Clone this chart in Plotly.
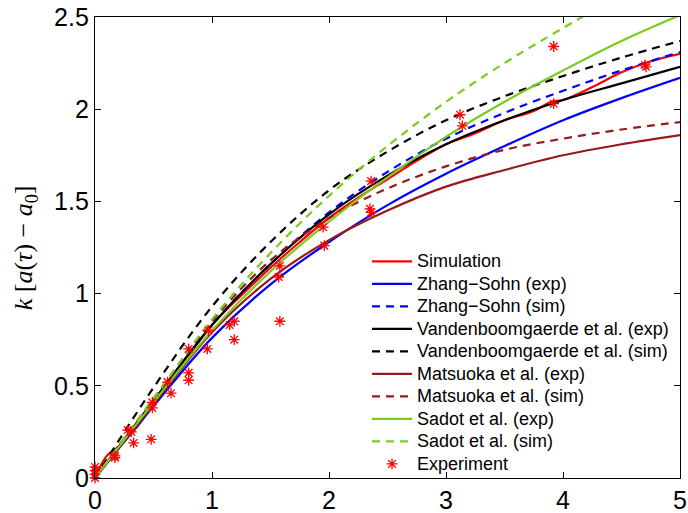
import plotly.graph_objects as go

# ---- data ----
x_curve = [0, 0.5, 1, 1.5, 2, 2.5, 3, 3.5, 4, 4.5, 5]

zhang_exp = [0, 0.39, 0.76, 1.05, 1.28, 1.48, 1.65, 1.80, 1.94, 2.06, 2.17]
zhang_sim = [0, 0.42, 0.83, 1.16, 1.44, 1.66, 1.84, 1.98, 2.10, 2.21, 2.31]
vdb_exp = [0, 0.42, 0.83, 1.16, 1.43, 1.64, 1.81, 1.94, 2.05, 2.14, 2.23]
vdb_sim = [0, 0.49, 0.93, 1.28, 1.56, 1.77, 1.94, 2.07, 2.18, 2.28, 2.37]
mats_exp = [0, 0.40, 0.79, 1.08, 1.29, 1.45, 1.58, 1.67, 1.75, 1.81, 1.86]
mats_sim = [0, 0.43, 0.85, 1.18, 1.41, 1.57, 1.69, 1.78, 1.84, 1.89, 1.93]
sadot_exp = [0, 0.41, 0.80, 1.12, 1.39, 1.63, 1.85, 2.04, 2.21, 2.37, 2.51]
sadot_sim = [0, 0.43, 0.86, 1.22, 1.53, 1.80, 2.04, 2.25, 2.44, 2.62, 2.79]

sim_x = [0, 0.1, 0.2, 0.35, 0.5, 0.75, 1, 1.25, 1.5, 1.75, 2, 2.25, 2.5, 2.75,
         3, 3.25, 3.5, 3.75, 3.9, 4.0, 4.25, 4.5, 4.75, 5]
sim_y = [0, 0.12, 0.17, 0.27, 0.40, 0.62, 0.83, 0.99, 1.14, 1.28, 1.41, 1.52,
         1.62, 1.72, 1.81, 1.87, 1.94, 1.99, 2.04, 2.05, 2.12, 2.20, 2.26, 2.30]

exp_x = [0, 0, 0, 0, 0.17, 0.17, 0.28, 0.31, 0.33, 0.48, 0.49, 0.49, 0.62, 0.65,
         0.80, 0.80, 0.80, 0.96, 0.97, 1.15, 1.19, 1.19, 1.57, 1.58, 1.58,
         1.95, 1.96, 2.35, 2.36, 2.36, 3.12, 3.14, 3.92, 3.92, 4.70, 4.71]
exp_y = [0, 0.02, 0.04, 0.06, 0.11, 0.12, 0.26, 0.25, 0.19, 0.21, 0.41, 0.38,
         0.52, 0.46, 0.57, 0.53, 0.70, 0.70, 0.80, 0.83, 0.85, 0.75, 1.09, 1.15,
         0.85, 1.36, 1.26, 1.46, 1.44, 1.61, 1.97, 1.91, 2.03, 2.34, 2.24, 2.23]

x_ticks = [0, 1, 2, 3, 4, 5]
y_ticks = [0, 0.5, 1, 1.5, 2, 2.5]
y_ticktext = ["0", "0.5", "1", "1.5", "2", "2.5"]

RED = "rgb(255,0,0)"
BLUE = "rgb(0,0,255)"
BLACK = "rgb(0,0,0)"
MAROON = "rgb(153,26,26)"
GREEN = "rgb(122,204,30)"
DASH = "8px,6px"


def nm(s):
    return '<span style="font-size:18px">' + s + '</span>'


fig = go.Figure()


def curve(x, y, color, dash, name):
    fig.add_trace(go.Scatter(x=x, y=y, mode="lines", name=nm(name),
                             line=dict(color=color, width=2.2, dash=dash,
                                       shape="spline", smoothing=1.0)))


curve(sim_x, sim_y, RED, "solid", "Simulation")
curve(x_curve, zhang_exp, BLUE, "solid", "Zhang\u2212Sohn (exp)")
curve(x_curve, zhang_sim, BLUE, DASH, "Zhang\u2212Sohn (sim)")
curve(x_curve, vdb_exp, BLACK, "solid", "Vandenboomgaerde et al. (exp)")
curve(x_curve, vdb_sim, BLACK, DASH, "Vandenboomgaerde et al. (sim)")
curve(x_curve, mats_exp, MAROON, "solid", "Matsuoka et al. (exp)")
curve(x_curve, mats_sim, MAROON, DASH, "Matsuoka et al. (sim)")
curve(x_curve, sadot_exp, GREEN, "solid", "Sadot et al. (exp)")
curve(x_curve, sadot_sim, GREEN, DASH, "Sadot et al. (sim)")

fig.add_trace(go.Scatter(x=exp_x, y=exp_y, mode="markers", name=nm("Experiment"),
                         marker=dict(symbol="asterisk-open", size=9,
                                     line=dict(color=RED, width=1.3), color=RED),
                         cliponaxis=False))

axis_common = dict(showline=True, linecolor="black", linewidth=1.3, mirror="ticks",
                   ticks="inside", ticklen=6, tickwidth=1, tickcolor="black",
                   showgrid=False, zeroline=False, automargin=False,
                   tickfont=dict(family="Liberation Sans, Arial", size=25, color="black"))

fig.update_xaxes(range=[0, 5], tickvals=x_ticks, ticktext=[str(v) for v in x_ticks], **axis_common)
fig.update_yaxes(range=[0, 2.5], tickvals=y_ticks, ticktext=y_ticktext, **axis_common)

fig.add_annotation(xref="paper", yref="paper", x=-0.12, y=0.5, textangle=-90,
                   showarrow=False, xanchor="center", yanchor="middle",
                   text="<i>k</i> [<i>a</i>(<i>τ</i>) − <i>a</i><sub>0</sub>]",
                   font=dict(family="Liberation Serif, Times New Roman", size=26, color="black"))

fig.update_layout(
    width=688, height=513,
    margin=dict(l=95, r=8, t=17, b=35),
    paper_bgcolor="white", plot_bgcolor="white",
    font=dict(family="Liberation Sans, Arial", color="black"),
    legend=dict(x=0.465, y=0.505, xanchor="left", yanchor="top",
                bgcolor="rgba(0,0,0,0)", borderwidth=0,
                font=dict(size=15, family="Liberation Sans, Arial", color="black"),
                itemwidth=40, tracegroupgap=0),
    showlegend=True,
)

fig.write_html("out.html")
